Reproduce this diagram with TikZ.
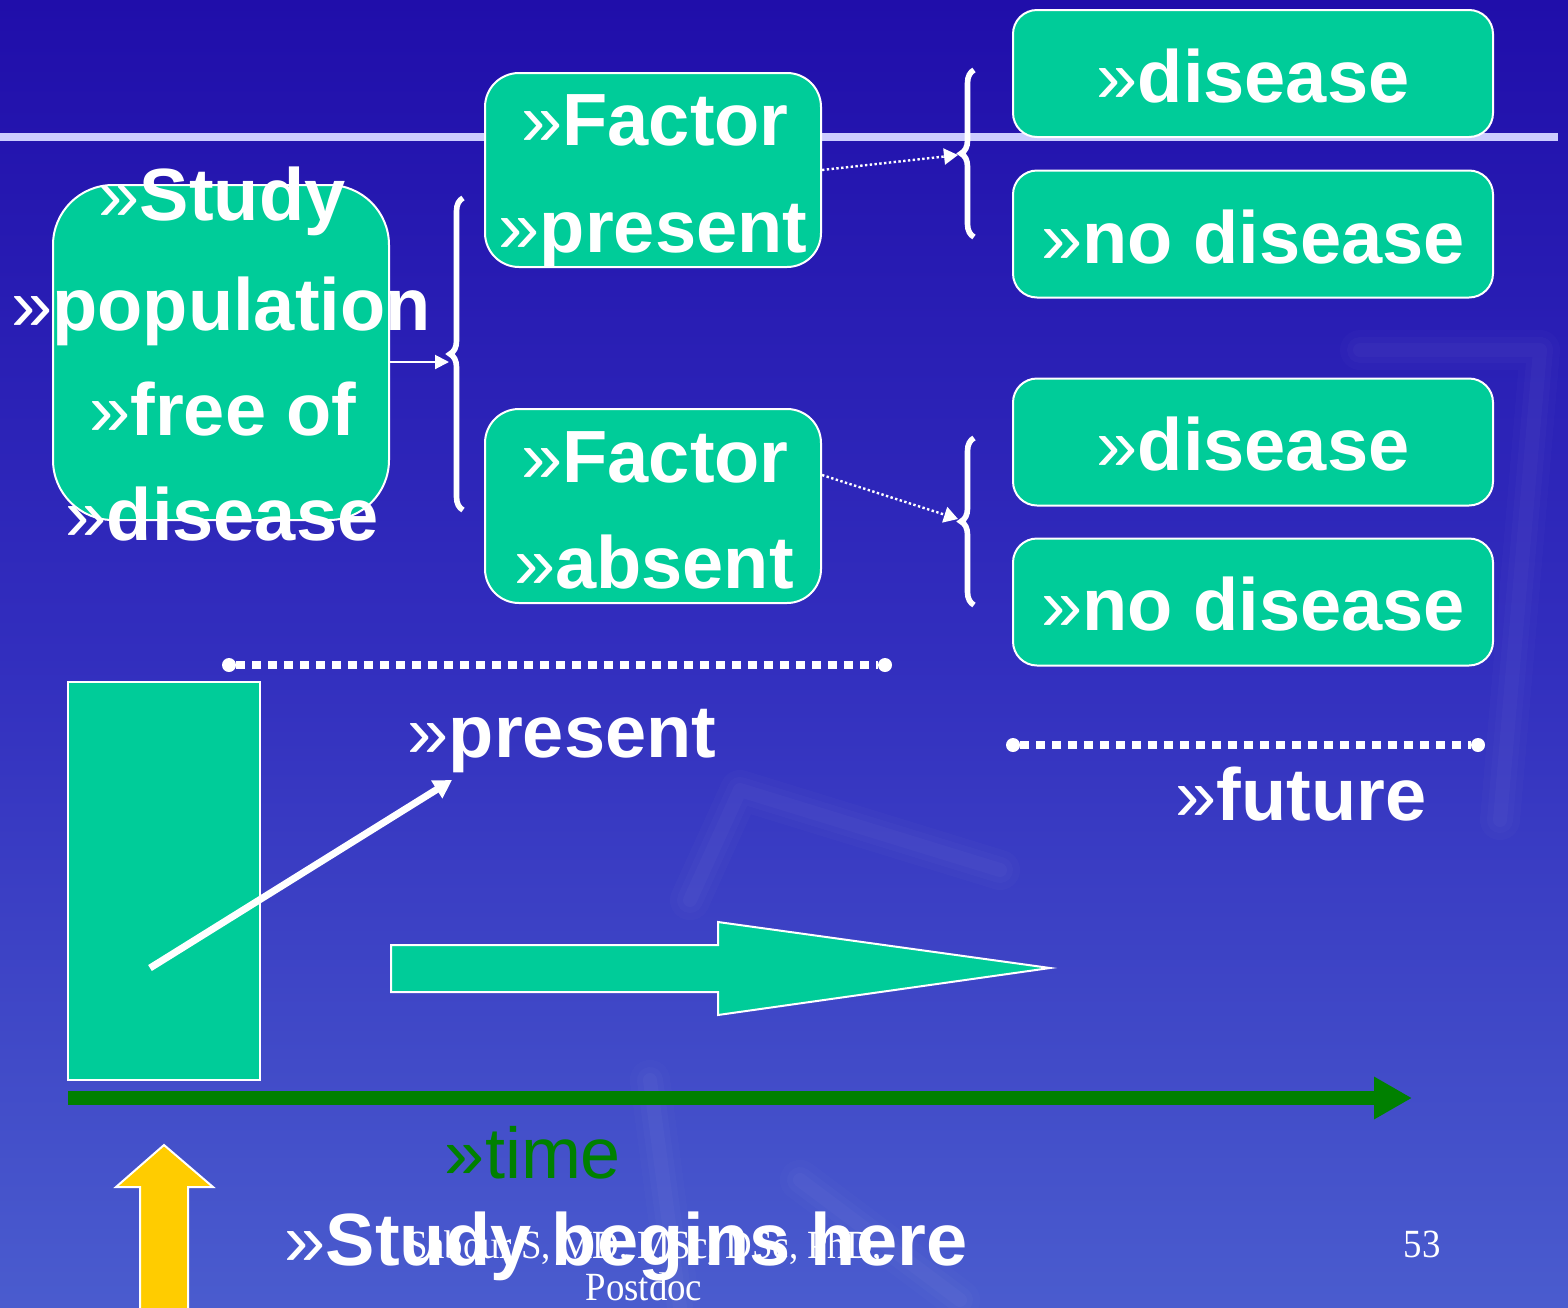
\documentclass[tikz,border=0pt]{standalone}
\usepackage{fontspec}
\setmainfont{Liberation Sans}
\newfontfamily\serifface{Liberation Serif}
\usetikzlibrary{arrows.meta,decorations.pathreplacing}

\definecolor{bgtop}{RGB}{32,14,170}
\definecolor{bgmid}{RGB}{50,46,190}
\definecolor{bgbot}{RGB}{74,92,206}
\definecolor{boxgreen}{RGB}{0,204,153}
\definecolor{rulelav}{RGB}{204,204,255}
\definecolor{axisgreen}{RGB}{0,128,0}
\definecolor{arrowyellow}{RGB}{255,204,0}

% bullet mark in regular weight
\newcommand\bul{{\mdseries »}}

\tikzset{
  bigtext/.style={text=white, anchor=base, inner sep=0pt,
    font=\fontsize{37}{44}\selectfont\bfseries},
  greenbox/.style={draw=white, line width=1pt, fill=boxgreen, inner sep=0pt},
  leftbox/.style={greenbox, rounded corners=30pt, minimum width=168pt, minimum height=167.5pt},
  factorbox/.style={greenbox, rounded corners=17pt, minimum width=168pt, minimum height=97pt},
  outcomebox/.style={greenbox, rounded corners=12pt, minimum width=240pt, minimum height=63.5pt},
  bracket/.style={draw=white, line width=2.8pt,
    decorate, decoration={brace, amplitude=6.5pt, aspect=0.5}},
  thinarrow/.style={draw=white, line width=1pt, -{Triangle[length=7pt,width=7pt]}},
  dotarrow/.style={draw=white, line width=1.2pt, dash pattern=on 1.2pt off 1.2pt,
    -{Triangle[length=7pt,width=8pt]}},
  timeline/.style={draw=white, line width=4pt, dash pattern=on 4.5pt off 3.5pt},
  enddot/.style={circle, fill=white, inner sep=0pt, minimum size=7pt},
  footer/.style={text=white, anchor=base, inner sep=0pt, xscale=0.92,
    font=\serifface\fontsize{20}{24}\selectfont},
  motif/.style={line cap=round, line join=round, draw=white},
}

\begin{document}
\begin{tikzpicture}[x=0.5pt,y=-0.5pt]
  % slide background
  \useasboundingbox (0,0) rectangle (1568,1307);
  \shade[top color=bgtop, bottom color=bgbot, middle color=bgmid]
    (0,0) rectangle (1568,1307);

  % faint background motif, soft edged
  \foreach \w/\o in {20pt/0.015, 13pt/0.02, 7pt/0.025} {
    \draw[motif, line width=\w, opacity=\o] (690,900) -- (740,790) -- (1000,870);
    \draw[motif, line width=\w, opacity=\o] (650,1080) -- (680,1307);
    \draw[motif, line width=\w, opacity=\o] (1360,350) -- (1540,350) -- (1500,820);
    \draw[motif, line width=\w, opacity=\o] (800,1180) -- (960,1300);
  }

  % title rule
  \draw[rulelav, line width=4pt] (0,137) -- (1558,137);

  % boxes
  \node[leftbox]    (pop)  at (221,352.5) {};
  \node[factorbox]  (fp)   at (653,170)   {};
  \node[factorbox]  (fa)   at (653,506)   {};
  \node[outcomebox] (d1)   at (1253,73.5) {};
  \node[outcomebox] (nd1)  at (1253,234)  {};
  \node[outcomebox] (d2)   at (1253,442)  {};
  \node[outcomebox] (nd2)  at (1253,602)  {};

  % box texts
  \node[bigtext] (popa) at (222,220) {\bul Study};
  \node[bigtext] (popb) at (221,330) {\bul population};
  \node[bigtext] (popc) at (223,435) {\bul free of};
  \node[bigtext] (popd) at (222,540) {\bul disease};
  \node[bigtext] (fpa) at (655,145) {\bul Factor};
  \node[bigtext] (fpb) at (653,252) {\bul present};
  \node[bigtext] (faa) at (655,482) {\bul Factor};
  \node[bigtext] (fab) at (654,588) {\bul absent};
  \node[bigtext] (d1t)  at (1253,102) {\bul disease};
  \node[bigtext] (nd1t) at (1253,263) {\bul no disease};
  \node[bigtext] (d2t)  at (1253,470) {\bul disease};
  \node[bigtext] (nd2t) at (1253,630) {\bul no disease};

  % braces
  \coordinate (b0lo) at (463,510); \coordinate (b0hi) at (463,198);
  \coordinate (b1lo) at (974,237); \coordinate (b1hi) at (974,70);
  \coordinate (b2lo) at (974,605); \coordinate (b2hi) at (974,438);
  \draw[bracket] (b0lo) -- (b0hi);
  \draw[bracket] (b1lo) -- (b1hi);
  \draw[bracket] (b2lo) -- (b2hi);
  \coordinate (t0) at (449,362);
  \coordinate (t1) at (958,155);
  \coordinate (t2) at (958,519);

  % connectors
  \draw[thinarrow] (pop.east |- t0) -- (t0);
  \draw[dotarrow] (fp.east) -- (t1);
  \path (fa.east) ++(0,-31) coordinate (fas);
  \draw[dotarrow] (fas) -- (t2);

  % present / future time spans
  \node[enddot] (pl) at (229,665) {};
  \node[enddot] (pr) at (885,665) {};
  \draw[timeline] (pl) -- (pr);
  \node[enddot] (fl) at (1013,745) {};
  \node[enddot] (fr) at (1478,745) {};
  \draw[timeline] (fl) -- (fr);
  \node[bigtext] (present) at (562,757) {\bul present};
  \node[bigtext] (future)  at (1301,820) {\bul future};

  % cohort block and its pointer
  \node[greenbox, minimum width=96pt, minimum height=199pt] (cohort) at (164,881) {};
  \coordinate (ptrstart) at (150,968);
  \coordinate (ptrend) at (452,780);
  \draw[white, line width=3.5pt, -{Triangle[length=9pt,width=10pt]}] (ptrstart) -- (ptrend);

  % forward block arrow
  \draw[fill=boxgreen, draw=white, line width=1pt]
    (391,945) -- (718,945) -- (718,922) -- (1050,968) -- (718,1015)
    -- (718,992) -- (391,992) -- cycle;

  % time axis
  \coordinate (axl) at (68,1098);
  \coordinate (axr) at (1412,1098);
  \draw[axisgreen, line width=7pt, -{Triangle[length=19pt,width=20pt]}] (axl) -- (axr);
  \node[text=axisgreen, anchor=base, inner sep=0pt,
        font=\fontsize{36}{42}\selectfont] (time) at (533,1178) {»time};

  % start marker
  \draw[fill=arrowyellow, draw=white, line width=1pt]
    (140,1315) -- (140,1187) -- (116,1187) -- (164,1145) -- (213,1187)
    -- (188,1187) -- (188,1315);

  % footer
  \node[footer] (auth) at (645,1258) {Sabour S, MD, MSc, DSc, PhD,};
  \node[footer] (auth2) at (644,1300) {Postdoc};
  \node[footer] (page) at (1422,1257) {53};

  \node[bigtext] (begins) at (626,1265) {\bul Study begins here};
\end{tikzpicture}
\end{document}
